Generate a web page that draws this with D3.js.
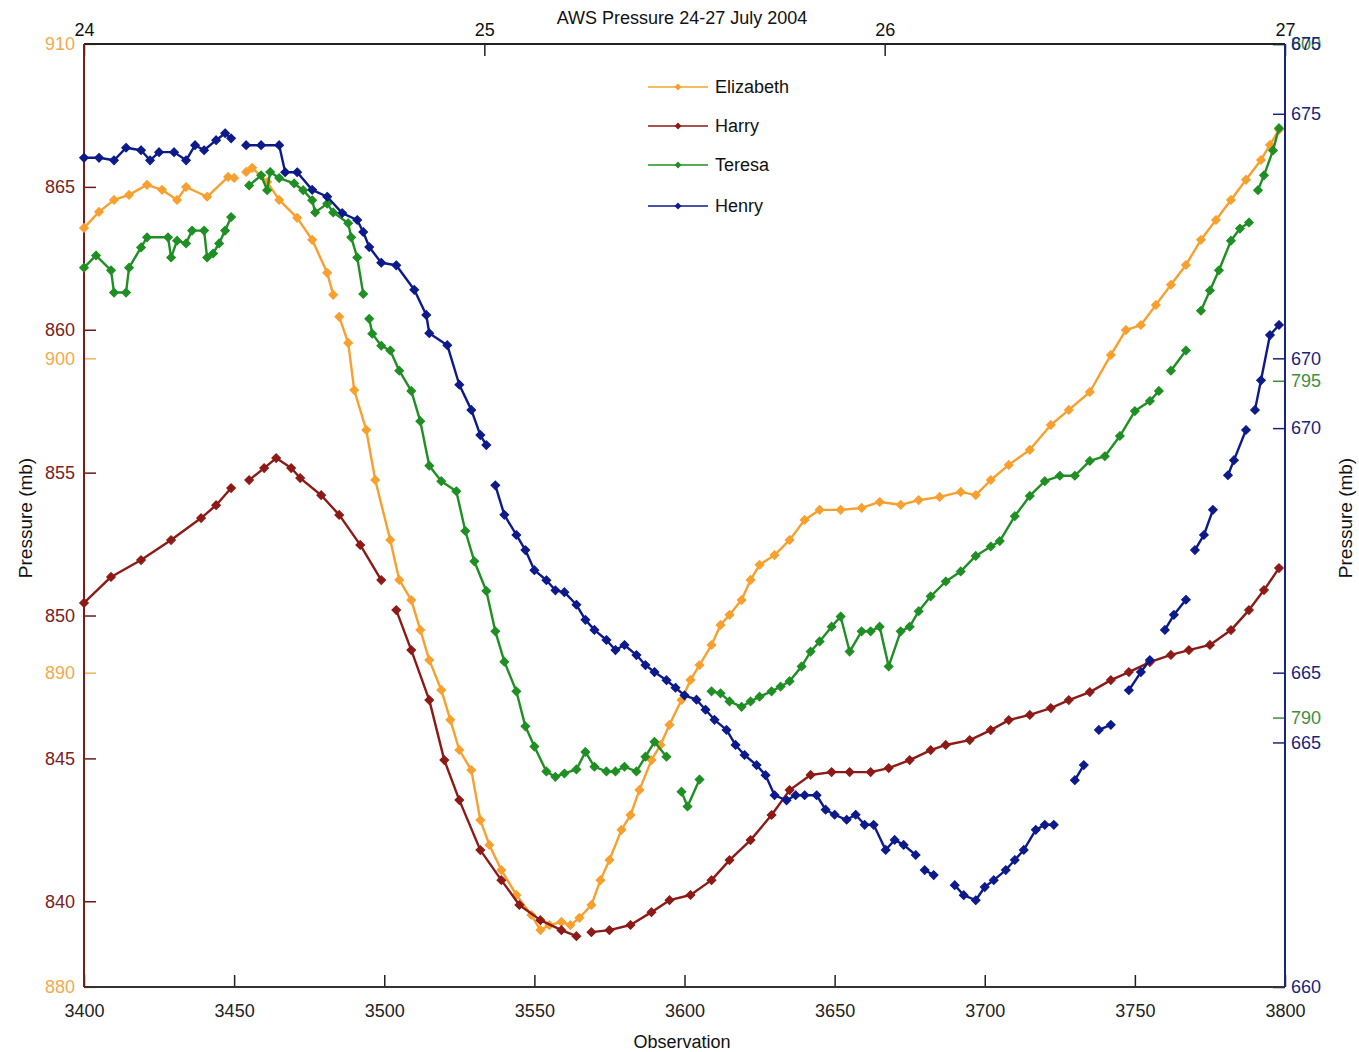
<!DOCTYPE html>
<html>
<head>
<meta charset="utf-8">
<script src="https://cdn.jsdelivr.net/npm/d3@7"></script>
<style>
  body { margin: 0; background: #fff; }
  svg text { font-family: "Liberation Sans", Arial, sans-serif; }
</style>
</head>
<body>
<div id="viz"></div>
<script>
// obs, pressure ; null = gap in the record
var elizabeth = [[3400,904.15],[3405,904.66],[3410,905.04],[3415,905.20],[3421,905.52],[3426,905.36],[3431,905.04],[3434,905.45],[3441,905.14],[3448,905.77],[3450,905.74],null,
  [3454,905.93],[3456,906.06],[3461,905.61],[3465,905.04],[3471,904.47],[3476,903.77],[3481,902.72],[3483,902.02],null,
  [3485,901.32],[3488,900.49],[3490,898.99],[3494,897.72],[3497,896.13],[3502,894.22],[3505,892.95],[3509,892.31],[3512,891.36],[3515,890.40],[3519,889.45],[3522,888.50],[3525,887.54],[3529,886.90],[3532,885.31],[3535,884.52],[3539,883.72],[3544,882.93],[3549,882.29],[3552,881.81],[3555,881.97],[3559,882.07],[3562,881.97],
  [3565,882.20],[3569,882.61],[3572,883.40],[3575,884.04],[3579,885.00],[3582,885.47],[3585,886.27],[3589,887.22],[3592,887.70],[3595,888.34],[3599,889.13],[3602,889.77],[3605,890.24],[3609,890.88],[3612,891.52],[3615,891.84],[3619,892.31],[3622,892.95],[3625,893.43],[3630,893.74],[3635,894.22],[3640,894.86],[3645,895.18],[3652,895.18],[3659,895.24],[3665,895.43],[3672,895.34],[3678,895.49],[3685,895.59],[3692,895.75],[3697,895.65],
  [3702,896.13],[3708,896.61],[3715,897.09],[3722,897.88],[3728,898.36],[3735,898.93],[3742,900.11],[3747,900.90],[3752,901.06],[3757,901.70],[3762,902.34],[3767,902.97],[3772,903.77],[3777,904.40],[3782,905.04],[3787,905.68],[3792,906.31],[3795,906.79],[3798,907.27]];

var harry = [[3400,850.44],[3409,851.35],[3419,851.94],[3429,852.64],[3439,853.41],[3444,853.86],[3449,854.46],null,
  [3455,854.74],[3460,855.16],[3464,855.51],[3469,855.16],[3472,854.81],[3479,854.21],[3485,853.52],[3492,852.47],[3499,851.24],null,
  [3504,850.19],[3509,848.79],[3515,847.04],[3520,844.94],[3525,843.54],[3532,841.79],[3539,840.74],[3545,839.87],[3552,839.34],[3559,838.99],[3564,838.78],null,
  [3569,838.92],[3575,838.99],[3582,839.17],[3589,839.62],[3595,840.04],[3602,840.22],[3609,840.74],[3615,841.44],[3622,842.14],[3629,843.02],[3635,843.89],[3642,844.42],[3649,844.52],[3655,844.52],[3662,844.52],[3668,844.66],[3675,844.94],[3682,845.29],[3687,845.47],[3695,845.64],
  [3702,845.99],[3708,846.34],[3715,846.52],[3722,846.76],[3728,847.04],[3735,847.32],[3742,847.74],[3748,848.02],[3755,848.37],[3762,848.62],[3768,848.79],[3775,848.97],[3782,849.49],[3788,850.19],[3793,850.89],[3798,851.66]];

var teresa = [[3400,796.68],[3404,796.86],[3409,796.64],[3410,796.31],[3414,796.31],[3415,796.68],[3419,796.98],[3421,797.13],[3428,797.13],[3429,796.83],[3431,797.08],[3434,797.04],[3436,797.23],[3440,797.23],[3441,796.83],[3443,796.89],[3445,797.04],[3447,797.23],[3449,797.43],null,
  [3455,797.90],[3459,798.05],[3461,797.83],[3462,798.10],[3465,798.01],[3470,797.93],[3473,797.83],[3476,797.68],[3477,797.50],[3481,797.63],[3483,797.50],[3488,797.34],[3489,797.13],[3491,796.83],[3493,796.29],null,
  [3495,795.92],[3496,795.70],[3499,795.52],[3502,795.45],[3505,795.15],[3509,794.85],[3512,794.40],[3515,793.74],[3519,793.51],[3524,793.36],[3527,792.77],[3530,792.32],[3534,791.88],[3537,791.28],[3540,790.83],[3544,790.39],[3547,789.87],[3550,789.57],[3554,789.20],[3557,789.12],[3560,789.17],[3564,789.23],[3567,789.49],[3570,789.27],[3574,789.20],[3577,789.20],[3580,789.27],[3584,789.20],[3587,789.42],[3590,789.64],[3594,789.42],null,
  [3599,788.90],[3601,788.68],[3605,789.08],null,
  [3609,790.39],[3612,790.36],[3615,790.24],[3619,790.16],[3622,790.24],[3625,790.31],[3629,790.39],[3632,790.46],[3635,790.54],[3639,790.76],[3642,790.98],[3645,791.13],[3649,791.35],[3652,791.50],[3655,790.98],[3659,791.28],[3662,791.28],[3665,791.35],[3668,790.76],[3672,791.28],[3675,791.35],[3678,791.58],[3682,791.80],[3687,792.02],[3692,792.17],[3697,792.40],
  [3702,792.54],[3705,792.62],[3710,792.99],[3715,793.29],[3720,793.51],[3725,793.59],[3730,793.59],[3735,793.81],[3740,793.88],[3745,794.18],[3750,794.55],[3755,794.70],[3758,794.85],null,
  [3762,795.15],[3767,795.45],null,
  [3772,796.04],[3775,796.34],[3778,796.64],[3782,797.08],[3785,797.26],[3788,797.35],null,
  [3791,797.83],[3793,798.05],[3796,798.42],[3798,798.75]];

var henry = [[3400,673.19],[3405,673.19],[3410,673.15],[3414,673.35],[3419,673.31],[3422,673.15],[3425,673.28],[3430,673.28],[3434,673.15],[3437,673.39],[3440,673.31],[3444,673.47],[3447,673.58],[3449,673.50],null,
  [3454,673.39],[3459,673.39],[3465,673.39],[3467,672.96],[3471,672.96],[3476,672.68],[3481,672.57],[3486,672.31],[3491,672.20],[3493,672.01],[3495,671.77],[3499,671.52],[3504,671.48],[3510,671.09],[3514,670.69],[3515,670.40],[3521,670.21],[3525,669.58],[3529,669.18],[3532,668.78],[3534,668.62],null,
  [3537,667.98],[3540,667.51],[3544,667.19],[3547,666.95],[3550,666.63],[3554,666.47],[3557,666.31],[3560,666.28],[3564,666.08],[3567,665.84],[3570,665.68],[3574,665.52],[3577,665.36],[3580,665.44],[3584,665.28],[3587,665.12],[3590,665.01],[3594,664.88],[3597,664.76],
  [3600,664.64],[3604,664.57],[3607,664.41],[3610,664.25],[3614,664.09],[3617,663.85],[3620,663.69],[3624,663.53],[3627,663.37],[3630,663.05],[3634,662.97],[3637,663.05],[3640,663.05],[3644,663.05],[3647,662.82],[3650,662.74],[3654,662.66],[3657,662.74],[3660,662.58],[3663,662.58],[3667,662.18],[3670,662.34],[3673,662.26],[3677,662.10],null,
  [3680,661.86],[3683,661.78],null,
  [3690,661.62],[3693,661.46],[3697,661.38],[3700,661.59],[3703,661.70],[3707,661.86],[3710,662.02],[3713,662.18],[3717,662.50],[3720,662.58],[3723,662.58],null,
  [3730,663.29],[3733,663.53],null,
  [3738,664.09],[3742,664.17],null,
  [3748,664.72],[3752,665.01],[3755,665.20],null,
  [3760,665.68],[3763,665.92],[3767,666.16],null,
  [3770,666.95],[3773,667.19],[3776,667.59],null,
  [3781,668.14],[3783,668.38],[3787,668.86],null,
  [3790,669.18],[3792,669.65],[3795,670.37],[3798,670.53]];

var seriesNames = ["Elizabeth", "Harry", "Teresa", "Henry"];
var seriesColors = ["#f7a02e", "#8c1a16", "#1f8f24", "#0d1a8a"];

var xTicks = [3400, 3450, 3500, 3550, 3600, 3650, 3700, 3750, 3800];
var dayTicks = [24, 25, 26, 27];
var harryTicks = [840, 845, 850, 855, 860, 865];
var elizTicks = [880, 890, 900, 910];
var henryTicksA = [660, 665, 670, 675];
var henryTicksB = [665, 670, 675];
var teresaTicks = [790, 795, 800];

var W = 1359, H = 1052;
var L = 84, R = 1285, T = 44, B = 987;

var svg = d3.select("#viz").append("svg")
    .attr("width", W)
    .attr("height", H);

var x = d3.scaleLinear().domain([3400, 3800]).range([L, R]);
var xDay = d3.scaleLinear().domain([24, 27]).range([L, R]);
var yEliz = d3.scaleLinear().domain([880, 910]).range([B, T]);
var yHarry = d3.scaleLinear().domain([837, 870]).range([B, T]);
var yTeresa = d3.scaleLinear().domain([786, 800]).range([B, T]);
var yHenry = d3.scaleLinear().domain([660, 675]).range([B, T]);
var yHenryB = d3.scaleLinear().domain([661.11, 676.11]).range([B, T]);

var scales = [yEliz, yHarry, yTeresa, yHenry];
var allData = [elizabeth, harry, teresa, henry];

function styleAxis(g, color, labelColor) {
    g.select(".domain").remove();
    g.selectAll(".tick line").attr("stroke", color).attr("stroke-width", 1.5);
    g.selectAll(".tick text")
        .attr("fill", labelColor)
        .style("font-size", "18px");
}

// bottom axis
var gx = svg.append("g")
    .attr("transform", "translate(0," + B + ")")
    .call(d3.axisBottom(x).tickValues(xTicks).tickFormat(d3.format("d"))
        .tickSizeInner(-12).tickSizeOuter(0).tickPadding(17));
styleAxis(gx, "#222", "#222");

// top axis (days)
var gt = svg.append("g")
    .attr("transform", "translate(0," + T + ")")
    .call(d3.axisTop(xDay).tickValues(dayTicks).tickFormat(d3.format("d"))
        .tickSizeInner(-12).tickSizeOuter(0).tickPadding(8));
styleAxis(gt, "#222", "#111");

// left axes
var gl1 = svg.append("g")
    .attr("transform", "translate(" + L + ",0)")
    .call(d3.axisLeft(yEliz).tickValues(elizTicks).tickSizeInner(-12).tickSizeOuter(0).tickPadding(9));
styleAxis(gl1, "#f5b25a", "#f2aa50");
var gl2 = svg.append("g")
    .attr("transform", "translate(" + L + ",0)")
    .call(d3.axisLeft(yHarry).tickValues(harryTicks).tickSizeInner(-12).tickSizeOuter(0).tickPadding(9));
styleAxis(gl2, "#6b1a1a", "#7a2222");

// right axes
var gr0 = svg.append("g")
    .attr("transform", "translate(" + R + ",0)")
    .call(d3.axisRight(yTeresa).tickValues(teresaTicks).tickSizeInner(-12).tickSizeOuter(0).tickPadding(6));
styleAxis(gr0, "#3a8f3a", "#3f8f3f");
var gr1 = svg.append("g")
    .attr("transform", "translate(" + R + ",0)")
    .call(d3.axisRight(yHenry).tickValues(henryTicksA).tickSizeInner(-12).tickSizeOuter(0).tickPadding(6));
styleAxis(gr1, "#1a237e", "#1a237e");
var gr2 = svg.append("g")
    .attr("transform", "translate(" + R + ",0)")
    .call(d3.axisRight(yHenryB).tickValues(henryTicksB).tickSizeInner(-12).tickSizeOuter(0).tickPadding(6));
styleAxis(gr2, "#1a237e", "#1a237e");

// frame lines
svg.append("line").attr("x1", L).attr("x2", R).attr("y1", T).attr("y2", T)
    .attr("stroke", "#222").attr("stroke-width", 2);
svg.append("line").attr("x1", L).attr("x2", R).attr("y1", B).attr("y2", B)
    .attr("stroke", "#333").attr("stroke-width", 2);
svg.append("line").attr("x1", L).attr("x2", L).attr("y1", T).attr("y2", B)
    .attr("stroke", "#7a1c1c").attr("stroke-width", 2);
svg.append("line").attr("x1", R).attr("x2", R).attr("y1", T).attr("y2", B)
    .attr("stroke", "#1a237e").attr("stroke-width", 2);

// series
var diamond = d3.symbol().type(d3.symbolDiamond2).size(46);

allData.forEach(function(data, i) {
    var y = scales[i];
    var line = d3.line()
        .defined(function(d) { return d !== null; })
        .x(function(d) { return x(d[0]); })
        .y(function(d) { return y(d[1]); });
    var g = svg.append("g");
    g.append("path")
        .datum(data)
        .attr("fill", "none")
        .attr("stroke", seriesColors[i])
        .attr("stroke-width", 2.4)
        .attr("stroke-linejoin", "round")
        .attr("d", line);
    g.selectAll("path.pt")
        .data(data.filter(function(d) { return d !== null; }))
        .enter()
        .append("path")
        .attr("class", "pt")
        .attr("d", diamond)
        .attr("fill", seriesColors[i])
        .attr("stroke", seriesColors[i])
        .attr("stroke-width", 1.2)
        .attr("transform", function(d) { return "translate(" + x(d[0]) + "," + y(d[1]) + ")"; });
});

// legend
var legendY = [87, 126, 165, 206];
var legendMark = d3.symbol().type(d3.symbolDiamond2).size(30);
seriesNames.forEach(function(name, i) {
    var g = svg.append("g").attr("transform", "translate(0," + legendY[i] + ")");
    g.append("line").attr("x1", 648).attr("x2", 708).attr("y1", 0).attr("y2", 0)
        .attr("stroke", seriesColors[i]).attr("stroke-width", 1.6);
    g.append("path").attr("d", legendMark).attr("fill", seriesColors[i])
        .attr("transform", "translate(678,0)");
    g.append("text").attr("x", 715).attr("y", 0).attr("dy", "0.35em")
        .style("font-size", "18px").attr("fill", "#111").text(name);
});

// titles
svg.append("text").attr("x", 682).attr("y", 18).attr("dy", "0.35em")
    .attr("text-anchor", "middle").style("font-size", "18px").attr("fill", "#111")
    .text("AWS Pressure 24-27 July 2004");
svg.append("text").attr("x", 682).attr("y", 1042).attr("dy", "0.35em")
    .attr("text-anchor", "middle").style("font-size", "18px").attr("fill", "#111")
    .text("Observation");
svg.append("text").attr("transform", "translate(25,518) rotate(-90)").attr("dy", "0.35em")
    .attr("text-anchor", "middle").style("font-size", "19px").attr("fill", "#111")
    .text("Pressure (mb)");
svg.append("text").attr("transform", "translate(1345,518) rotate(-90)").attr("dy", "0.35em")
    .attr("text-anchor", "middle").style("font-size", "19px").attr("fill", "#111")
    .text("Pressure (mb)");
</script>
</body>
</html>
